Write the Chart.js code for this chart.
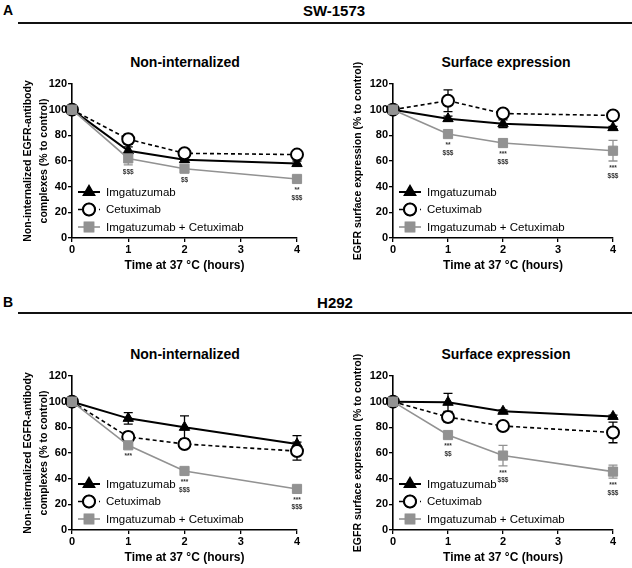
<!DOCTYPE html>
<html>
<head>
<meta charset="utf-8">
<script src="https://cdn.jsdelivr.net/npm/chart.js@4.4.1/dist/chart.umd.min.js"></script>
<style>
    body { margin: 0; width: 632px; height: 568px; background: #fff; position: relative; overflow: hidden;
           font-family: "Liberation Sans", Arial, sans-serif; color: #000; }
    canvas { position: absolute; }
    .lbl { position: absolute; font-weight: bold; white-space: nowrap; transform: translate(-50%, -50%); }
    .rule { position: absolute; left: 18px; right: 0; height: 2px; background: #111; }
</style>
</head>
<body>
<div class="lbl" style="left:8px;top:10px;font-size:14px">A</div>
<div class="lbl" style="left:334px;top:10px;font-size:15px">SW-1573</div>
<div class="rule" style="top:22px"></div>
<div class="lbl" style="left:8px;top:302px;font-size:14px">B</div>
<div class="lbl" style="left:335px;top:302px;font-size:15px">H292</div>
<div class="rule" style="top:312px"></div>

<div class="lbl" style="left:185px;top:62px;font-size:14px">Non-internalized</div>
<div class="lbl" style="left:506px;top:62px;font-size:14px">Surface expression</div>
<div class="lbl" style="left:185px;top:354px;font-size:14px">Non-internalized</div>
<div class="lbl" style="left:506px;top:354px;font-size:14px">Surface expression</div>

<canvas id="swNon" width="316" height="238" style="left:0;top:40px"></canvas>
<canvas id="swSurf" width="316" height="238" style="left:316px;top:40px"></canvas>
<canvas id="h292Non" width="316" height="238" style="left:0;top:332px"></canvas>
<canvas id="h292Surf" width="316" height="238" style="left:316px;top:332px"></canvas>

<script>
const hours = [0, 1, 2, 4];
const xTicks = [0, 1, 2, 3, 4];
const yTicks = [0, 20, 40, 60, 80, 100, 120];
const seriesNames = ['Imgatuzumab', 'Cetuximab', 'Imgatuzumab + Cetuximab'];
const xTitle = 'Time at 37 °C (hours)';
const yTitleNon = ['Non-internalized EGFR-antibody', 'complexes (% to control)'];
const yTitleSurf = 'EGFR surface expression (% to control)';

// SW-1573, non-internalized
const swNonImg = [100, 68, 61, 58];
const swNonImgErr = [0, 3, 2, 2];
const swNonCet = [100, 77, 66, 65];
const swNonCetErr = [0, 4, 2, 1];
const swNonCombo = [100, 62, 54, 46];
const swNonComboErr = [0, 5, 2, 2];
const swNonStars = ['', '$$$', '$$', '**\n$$$'];

// SW-1573, surface expression
const swSurfImg = [100, 93, 89, 86];
const swSurfImgErr = [0, 2, 3, 1];
const swSurfCet = [100, 107, 97, 95.5];
const swSurfCetErr = [0, 8.5, 2, 1];
const swSurfCombo = [100, 81, 74, 68];
const swSurfComboErr = [0, 2, 3, 8];
const swSurfStars = ['', '**\n$$$', '***\n$$$', '***\n$$$'];

// H292, non-internalized
const h292NonImg = [100, 87, 80, 67];
const h292NonImgErr = [0, 4.5, 9, 6.5];
const h292NonCet = [100, 72.5, 67, 61.5];
const h292NonCetErr = [0, 4, 3, 7];
const h292NonCombo = [100, 66, 46, 32];
const h292NonComboErr = [0, 2, 2, 2];
const h292NonStars = ['', '***', '***\n$$$', '***\n$$$'];

// H292, surface expression
const h292SurfImg = [100, 99.5, 92.5, 88.5];
const h292SurfImgErr = [0, 7, 1, 1];
const h292SurfCet = [100, 88, 81, 76];
const h292SurfCetErr = [0, 4, 3, 8];
const h292SurfCombo = [100, 74, 58, 45.5];
const h292SurfComboErr = [0, 2, 8, 5];
const h292SurfStars = ['', '***\n$$', '***\n$$$', '***\n$$$'];

const GREY = '#929292';

const toPoints = vals => vals.map((v, i) => ({ x: hours[i], y: v }));

// error bars, drawn under the markers
const errorBars = {
    id: 'errorBars',
    beforeDatasetsDraw(chart) {
        const { ctx, scales: { x, y } } = chart;
        chart.data.datasets.forEach(ds => {
            ctx.save();
            ctx.strokeStyle = ds.borderColor;
            ctx.lineWidth = 1.3;
            ds.data.forEach((p, j) => {
                const e = ds.errors[j];
                if (!e) return;
                const px = x.getPixelForValue(p.x);
                const top = y.getPixelForValue(p.y + e);
                const bot = y.getPixelForValue(p.y - e);
                ctx.beginPath();
                ctx.moveTo(px, top); ctx.lineTo(px, bot);
                ctx.moveTo(px - 4.5, top); ctx.lineTo(px + 4.5, top);
                ctx.moveTo(px - 4.5, bot); ctx.lineTo(px + 4.5, bot);
                ctx.stroke();
            });
            ctx.restore();
        });
    }
};

// significance marks under the combination points + legend inside the plot
const extras = {
    id: 'extras',
    afterDraw(chart) {
        const { ctx, chartArea, scales: { x, y } } = chart;
        const combo = chart.data.datasets[2];
        ctx.save();
        ctx.fillStyle = '#333';
        ctx.font = 'bold 6.5px "Liberation Sans", Arial, sans-serif';
        ctx.textAlign = 'center';
        ctx.textBaseline = 'top';
        combo.data.forEach((p, j) => {
            const s = combo.stars[j];
            if (!s) return;
            const px = x.getPixelForValue(p.x);
            let py = Math.max(y.getPixelForValue(p.y) + 8, y.getPixelForValue(p.y - combo.errors[j]) + 4);
            s.split('\n').forEach(line => {
                ctx.fillText(line, px, py);
                py += 7.5;
            });
        });
        ctx.restore();

        const rows = [46, 28.5, 11];
        chart.data.datasets.forEach((ds, i) => {
            const ly = chartArea.bottom - rows[i];
            const lx = chartArea.left;
            ctx.save();
            ctx.strokeStyle = ds.borderColor;
            ctx.lineWidth = ds.borderWidth;
            ctx.setLineDash(ds.borderDash || []);
            ctx.beginPath();
            ctx.moveTo(lx + 6, ly);
            ctx.lineTo(lx + 28, ly);
            ctx.stroke();
            ctx.setLineDash([]);
            Chart.helpers.drawPoint(ctx, {
                pointStyle: ds.pointStyle,
                radius: ds.pointRadius,
                borderWidth: ds.pointBorderWidth,
                rotation: 0
            }, lx + 17, ly);
            ctx.fillStyle = ds.pointBackgroundColor;
            ctx.strokeStyle = ds.pointBorderColor;
            ctx.restore();
            ctx.save();
            ctx.fillStyle = ds.pointBackgroundColor;
            ctx.strokeStyle = ds.pointBorderColor;
            ctx.lineWidth = ds.pointBorderWidth;
            Chart.helpers.drawPoint(ctx, {
                pointStyle: ds.pointStyle,
                radius: ds.pointRadius,
                borderWidth: ds.pointBorderWidth,
                rotation: 0
            }, lx + 17, ly);
            ctx.fillStyle = '#000';
            ctx.font = '11.5px "Liberation Sans", Arial, sans-serif';
            ctx.textAlign = 'left';
            ctx.textBaseline = 'middle';
            ctx.fillText(ds.label, lx + 34, ly + 0.5);
            ctx.restore();
        });
    }
};

const makeChart = (id, img, imgErr, cet, cetErr, combo, comboErr, stars, yTitle, yWidth, yTitlePad) => {
    new Chart(document.getElementById(id), {
        type: 'line',
        data: {
            datasets: [
                {
                    label: seriesNames[0], data: toPoints(img), errors: imgErr, order: 2,
                    borderColor: '#000', borderWidth: 2, pointStyle: 'triangle', pointRadius: 6,
                    pointBackgroundColor: '#000', pointBorderColor: '#000', pointBorderWidth: 1, clip: false
                },
                {
                    label: seriesNames[1], data: toPoints(cet), errors: cetErr, order: 1,
                    borderColor: '#000', borderWidth: 1.6, borderDash: [4, 3], pointStyle: 'circle', pointRadius: 6,
                    pointBackgroundColor: '#fff', pointBorderColor: '#000', pointBorderWidth: 2, clip: false
                },
                {
                    label: seriesNames[2], data: toPoints(combo), errors: comboErr, stars, order: 0,
                    borderColor: GREY, borderWidth: 1.6, pointStyle: 'rect', pointRadius: 6.5,
                    pointBackgroundColor: GREY, pointBorderColor: GREY, pointBorderWidth: 1, clip: false
                }
            ]
        },
        options: {
            animation: false,
            responsive: false,
            events: [],
            layout: { padding: { top: 44, right: 19, left: 0, bottom: 0 } },
            plugins: { legend: { display: false }, tooltip: { enabled: false } },
            scales: {
                x: {
                    type: 'linear', min: 0, max: 4,
                    afterFit: s => { s.height = 40; },
                    afterBuildTicks: s => { s.ticks = xTicks.map(v => ({ value: v })); },
                    ticks: { color: '#000', padding: 1, font: { size: 11, weight: 'bold' } },
                    grid: { drawOnChartArea: false, drawTicks: true, tickLength: 4, color: '#000', lineWidth: 1.3 },
                    border: { color: '#000', width: 1.6 },
                    title: { display: true, text: xTitle, color: '#000', font: { size: 12, weight: 'bold' }, padding: { top: 0, bottom: 5 } }
                },
                y: {
                    min: 0, max: 120,
                    afterFit: s => { s.width = yWidth; },
                    afterBuildTicks: s => { s.ticks = yTicks.map(v => ({ value: v })); },
                    ticks: { color: '#000', padding: 1, font: { size: 11, weight: 'bold' } },
                    grid: { drawOnChartArea: false, drawTicks: true, tickLength: 4, color: '#000', lineWidth: 1.3 },
                    border: { color: '#000', width: 1.6 },
                    title: { display: true, text: yTitle, color: '#000', font: { size: 10.5, weight: 'bold', lineHeight: 1.5 }, padding: { top: yTitlePad, bottom: 0 } }
                }
            }
        },
        plugins: [errorBars, extras]
    });
};

makeChart('swNon', swNonImg, swNonImgErr, swNonCet, swNonCetErr, swNonCombo, swNonComboErr, swNonStars, yTitleNon, 72, 20);
makeChart('swSurf', swSurfImg, swSurfImgErr, swSurfCet, swSurfCetErr, swSurfCombo, swSurfComboErr, swSurfStars, yTitleSurf, 77, 34);
makeChart('h292Non', h292NonImg, h292NonImgErr, h292NonCet, h292NonCetErr, h292NonCombo, h292NonComboErr, h292NonStars, yTitleNon, 72, 20);
makeChart('h292Surf', h292SurfImg, h292SurfImgErr, h292SurfCet, h292SurfCetErr, h292SurfCombo, h292SurfComboErr, h292SurfStars, yTitleSurf, 77, 34);
</script>
</body>
</html>
